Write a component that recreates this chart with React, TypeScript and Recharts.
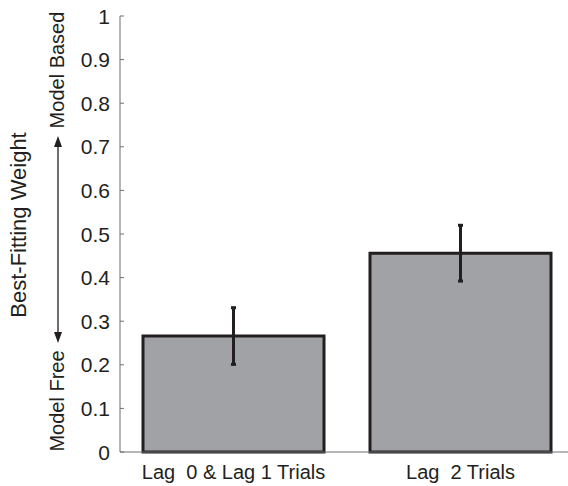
import { BarChart, Bar, XAxis, YAxis, ErrorBar } from "recharts";

const categories = ["Lag  0 & Lag 1 Trials", "Lag  2 Trials"];
const weights = [0.266, 0.456];
const errors = [0.065, 0.064];
const yTicks = [0, 0.1, 0.2, 0.3, 0.4, 0.5, 0.6, 0.7, 0.8, 0.9, 1];

const data = categories.map((label, i) => ({ label, weight: weights[i], err: errors[i] }));

const INK = "#231f20";
const AXIS = "#6d6e71";
const FONT = "'Liberation Sans', Arial, sans-serif";

function YTick({ x, y, payload }: any) {
  return (
    <g>
      <line x1={x} x2={x + 4} y1={y} y2={y} stroke={AXIS} strokeWidth={1} />
      <text x={x - 10} y={y} dy="0.36em" textAnchor="end" fontSize={21} fill={INK} fontFamily={FONT}>
        {String(payload.value)}
      </text>
    </g>
  );
}

function XTick({ x, y, payload }: any) {
  return (
    <text
      x={x}
      y={y + 27}
      textAnchor="middle"
      fontSize={20}
      fill={INK}
      fontFamily={FONT}
      style={{ whiteSpace: "pre" }}
    >
      {payload.value}
    </text>
  );
}

// axis title plus the "Model Free <-> Model Based" arrow
function YTitle() {
  const ax = 58;
  return (
    <g fontFamily={FONT} fill={INK}>
      <text transform="translate(26,225) rotate(-90)" textAnchor="middle" fontSize={22}>
        Best-Fitting Weight
      </text>
      <text transform="translate(64,70) rotate(-90)" textAnchor="middle" fontSize={20}>
        Model Based
      </text>
      <text transform="translate(64,401) rotate(-90)" textAnchor="middle" fontSize={20}>
        Model Free
      </text>
      <line x1={ax} x2={ax} y1={144} y2={335} stroke={INK} strokeWidth={1.3} />
      <polygon points={`${ax},136 ${ax - 4},147 ${ax + 4},147`} fill={INK} />
      <polygon points={`${ax},343 ${ax - 4},332 ${ax + 4},332`} fill={INK} />
    </g>
  );
}

export default function App() {
  return (
    <div style={{ position: "absolute", left: 0, top: 0, width: 568, height: 486, background: "#fff" }}>
      <BarChart width={568} height={486} data={data} margin={{ top: 16, right: -6, left: 0, bottom: 0 }}>
        <XAxis
          dataKey="label"
          height={34}
          tick={<XTick />}
          tickLine={false}
          tickSize={0}
          tickMargin={0}
          axisLine={{ stroke: AXIS, strokeWidth: 1 }}
          interval={0}
        />
        <YAxis
          width={120}
          domain={[0, 1]}
          ticks={yTicks}
          tick={<YTick />}
          tickLine={false}
          tickSize={0}
          tickMargin={0}
          axisLine={{ stroke: AXIS, strokeWidth: 1 }}
          label={{ content: <YTitle /> }}
        />
        <Bar dataKey="weight" fill="#a1a2a6" stroke={INK} strokeWidth={3} barSize={181} isAnimationActive={false}>
          <ErrorBar dataKey="err" width={2.5} strokeWidth={3} stroke={INK} direction="y" />
        </Bar>
      </BarChart>
    </div>
  );
}
